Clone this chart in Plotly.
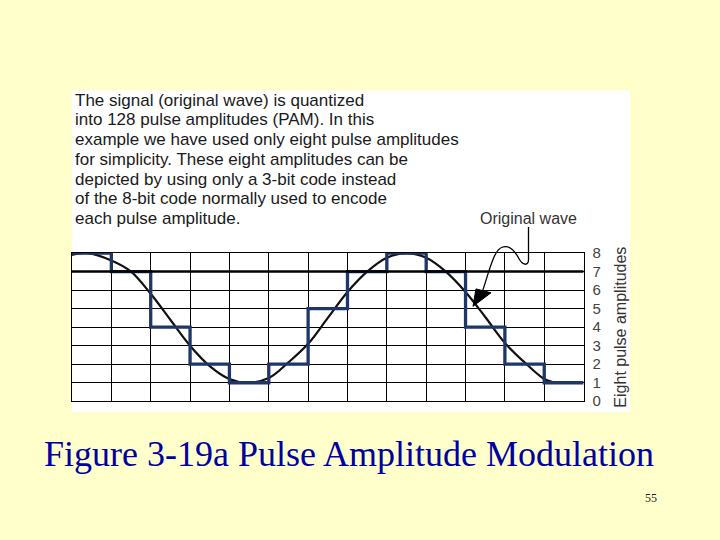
import plotly.graph_objects as go

# ---- data ----
step_x = [0, 1, 2, 3, 4, 5, 6, 7, 8, 9, 10, 11, 12, 13]
step_levels = [8, 7, 4, 2, 1, 2, 5, 7, 8, 7, 4, 2, 1, 1]

wave_x = [0, 0.4, 1, 1.5, 2, 2.5, 3, 3.5, 4, 4.45, 5, 5.5, 6, 6.5, 7, 7.5,
          8, 8.5, 9, 9.5, 10, 10.5, 11, 11.5, 12, 12.2]
wave_y = [7.9, 8.0, 7.6, 7.0, 5.8, 4.4, 3.0, 1.9, 1.2, 1.0, 1.25, 2.1, 3.1, 4.5,
          5.9, 7.0, 7.75, 8.0, 7.75, 7.0, 5.9, 4.55, 3.15, 2.1, 1.2, 1.05]

level_ticks = [0, 1, 2, 3, 4, 5, 6, 7, 8]
level_labels = ["0", "1", "2", "3", "4", "5", "6", "7", "8"]

intro_lines = [
    "The signal (original wave) is quantized",
    "into 128 pulse amplitudes (PAM). In this",
    "example we have used only eight pulse amplitudes",
    "for simplicity. These eight amplitudes can be",
    "depicted by using only a 3-bit code instead",
    "of the 8-bit code normally used to encode",
    "each pulse amplitude.",
]
caption = "Figure 3-19a Pulse Amplitude Modulation"
page_no = "55"

W, H = 720, 540


def px(x):
    return x / W


def py(y):
    return 1 - y / H


def P(x, y):
    return f"{px(x):.5f},{py(y):.5f}"


fig = go.Figure()

fig.add_trace(go.Scatter(
    x=wave_x, y=wave_y, mode="lines",
    line=dict(color="#111111", width=2.2, shape="spline"),
    hoverinfo="skip", showlegend=False))

fig.add_trace(go.Scatter(
    x=step_x, y=step_levels, mode="lines",
    line=dict(color="#1f3668", width=3.3, shape="hv"),
    hoverinfo="skip", showlegend=False))

shapes = [
    # white panel
    dict(type="rect", xref="paper", yref="paper",
         x0=px(72), x1=px(630), y0=py(416), y1=py(84),
         fillcolor="white", line=dict(width=0), layer="below"),
    # thick level-7 line
    dict(type="line", xref="x", yref="y", x0=0, x1=13, y0=7, y1=7,
         line=dict(color="black", width=2.5), layer="above"),
    # squiggle arrow line
    dict(type="path", xref="paper", yref="paper",
         path=("M " + P(528.5, 225) + " L " + P(528.5, 259) +
               " C " + P(528.5, 265) + " " + P(523, 266) + " " + P(518, 256) +
               " C " + P(513, 247) + " " + P(507, 244) + " " + P(502, 246) +
               " C " + P(494, 249) + " " + P(490, 268) + " " + P(482, 293)),
         line=dict(color="black", width=1.3), layer="above"),
    # arrow head
    dict(type="path", xref="paper", yref="paper",
         path="M " + P(473, 307) + " L " + P(476, 289) + " L " + P(491, 293) + " Z",
         fillcolor="black", line=dict(color="black", width=1), layer="above"),
]

annotations = []
for i, t in enumerate(intro_lines):
    annotations.append(dict(
        text=t, xref="paper", yref="paper", x=px(73), y=py(94 + 20.4 * i),
        xanchor="left", yanchor="middle", showarrow=False,
        font=dict(family="Liberation Sans, Arial", size=17, color="#1a1a1a")))

annotations += [
    dict(text="Original wave", xref="paper", yref="paper", x=px(528), y=py(216),
         xanchor="center", yanchor="middle", showarrow=False,
         font=dict(family="Liberation Sans, Arial", size=16, color="#333333")),
    dict(text="Eight pulse amplitudes", xref="paper", yref="paper",
         x=px(621), y=py(329), xanchor="center", yanchor="middle",
         textangle=-90, showarrow=False,
         font=dict(family="Liberation Sans, Arial", size=16, color="#333333")),
    dict(text=caption, xref="paper", yref="paper", x=px(349), y=py(459),
         xanchor="center", yanchor="middle", showarrow=False,
         font=dict(family="Liberation Serif, Times New Roman", size=36, color="#0000a0")),
    dict(text=page_no, xref="paper", yref="paper", x=px(651), y=py(505),
         xanchor="center", yanchor="middle", showarrow=False,
         font=dict(family="Liberation Serif, Times New Roman", size=12, color="#222222")),
]

fig.update_layout(
    width=W, height=H, autosize=False,
    margin=dict(l=0, r=0, t=0, b=0, pad=0),
    paper_bgcolor="#ffffcc", plot_bgcolor="white",
    shapes=shapes, annotations=annotations, showlegend=False,
    xaxis=dict(domain=[px(72), px(583.6)], range=[0, 13], dtick=1, tick0=0,
               showgrid=True, gridcolor="black", gridwidth=1,
               showline=True, linecolor="black", linewidth=1, mirror=True,
               zeroline=False, showticklabels=False, ticks="", fixedrange=True),
    yaxis=dict(domain=[py(405), py(252)], range=[0, 8], side="right",
               tickmode="array", tickvals=level_ticks, ticktext=level_labels,
               showgrid=True, gridcolor="black", gridwidth=1,
               showline=True, linecolor="black", linewidth=1, mirror=True,
               zeroline=False, ticks="", ticklabelstandoff=5,
               tickfont=dict(family="Liberation Sans, Arial", size=15, color="#444444"),
               fixedrange=True),
)

fig.write_html(
    "out.html",
    config={"displayModeBar": False},
    post_script="document.body.style.margin='0';document.body.style.background='#ffffcc';",
)
